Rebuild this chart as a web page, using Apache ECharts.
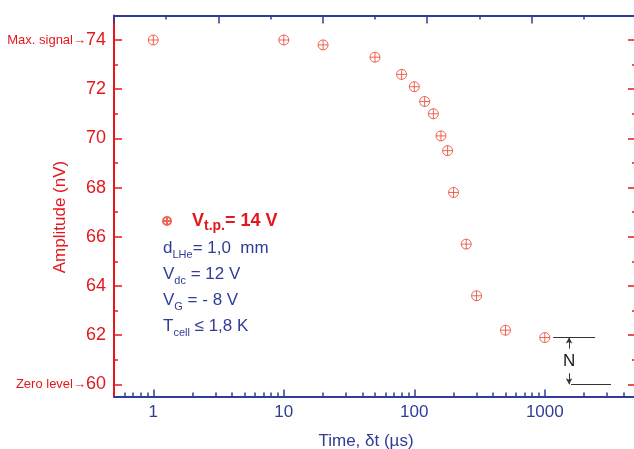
<!DOCTYPE html>
<html>
<head>
<meta charset="utf-8">
<script src="https://cdn.jsdelivr.net/npm/echarts@6/dist/echarts.min.js"></script>
<style>
  html, body { margin: 0; padding: 0; background: #ffffff; }
  #chart { width: 634px; height: 449px; }
</style>
</head>
<body>
<div id="chart"></div>
<script>
// Delay time (µs) and measured signal amplitude (nV)
const times = [1, 10, 20, 50, 80, 100, 120, 140, 160, 180, 200, 250, 300, 500, 1000];
const amplitudes = [74.0, 74.0, 73.8, 73.3, 72.6, 72.1, 71.5, 71.0, 70.1, 69.5, 67.8, 65.7, 63.6, 62.2, 61.9];

// Axis ticks
const xMajorTicks = [1, 10, 100, 1000];
const xMinorTicks = [0.6, 0.7, 0.8, 0.9,
  2, 3, 4, 5, 6, 7, 8, 9,
  20, 30, 40, 50, 60, 70, 80, 90,
  200, 300, 400, 500, 600, 700, 800, 900,
  2000, 3000, 4000];
const yMajorTicks = [60, 62, 64, 66, 68, 70, 72, 74];
const yMinorTicks = [61, 63, 65, 67, 69, 71, 73];

// Reference levels marked on the amplitude axis
const levelNames = { 74: 'Max. signal\u2192', 60: 'Zero level\u2192' };

// Noise band between the last point and zero level
const noiseTop = 61.9;
const noiseBottom = 60;

const seriesName = 'Vt.p. = 14 V';
// Experimental conditions: [main, subscript, rest]
const paramLines = [
  ['d', 'LHe', '= 1,0  mm'],
  ['V', 'dc', ' = 12 V'],
  ['V', 'G', ' = - 8 V'],
  ['T', 'cell', ' \u2264 1,8 K']
];

const RED = '#e3171d';
const BLUE = '#2f3d96';
const MARK = '#e8412f';
const FONT = 'Arial, "Liberation Sans", sans-serif';

const crossCircle = 'path://M10,0 A10,10 0 1,1 -10,0 A10,10 0 1,1 10,0 Z M-10,0 L10,0 M0,-10 L0,10';

const chart = echarts.init(document.getElementById('chart'), null, { renderer: 'canvas' });

const paramGraphics = paramLines.map((p, i) => ({
  type: 'text',
  left: 163,
  top: 240 + i * 26,
  style: {
    text: '{m|' + p[0] + '}{s|' + p[1] + '}{m|' + p[2] + '}',
    rich: {
      m: { fontSize: 17, fontFamily: FONT, fill: BLUE, color: BLUE, lineHeight: 24 },
      s: { fontSize: 11, fontFamily: FONT, fill: BLUE, color: BLUE, lineHeight: 11, verticalAlign: 'bottom' }
    }
  }
}));

const yCommon = {
  type: 'value', min: 59.5, max: 75, splitLine: { show: false }
};

const option = {
  backgroundColor: '#ffffff',
  animation: false,
  textStyle: { fontFamily: FONT },
  grid: { left: 114, right: -2, top: 15.4, bottom: 52.4, containLabel: false, outerBoundsMode: 'none' },
  legend: {
    left: 162, top: 212, padding: 0,
    selectedMode: false,
    itemWidth: 8, itemHeight: 8,
    data: [seriesName],
    formatter: () => '{gap|}{b|V}{sub|t.p.}{b|= 14 V}',
    textStyle: {
      rich: {
        gap: { width: 16 },
        b: { fontSize: 18, fontWeight: 'bold', color: RED, fontFamily: FONT, lineHeight: 24 },
        sub: { fontSize: 14, fontWeight: 'bold', color: RED, fontFamily: FONT, lineHeight: 14, verticalAlign: 'bottom' }
      }
    }
  },
  xAxis: [
    {
      type: 'log', logBase: 10, min: 0.5, max: 5000, position: 'bottom',
      axisLine: { lineStyle: { color: BLUE, width: 2 } },
      axisTick: { inside: true, length: 7, customValues: xMajorTicks, lineStyle: { color: BLUE, width: 1.5 } },
      axisLabel: { customValues: xMajorTicks, color: BLUE, fontSize: 17, margin: 7, fontFamily: FONT, formatter: v => String(v) },
      splitLine: { show: false },
      minorTick: { show: false },
      name: 'Time, \u03b4t (\u00b5s)', nameLocation: 'middle', nameGap: 36, nameMoveOverlap: false,
      nameTextStyle: { color: BLUE, fontSize: 17, fontFamily: FONT, padding: [0, 18, 0, 0] }
    },
    {
      type: 'log', logBase: 10, min: 0.5, max: 5000, position: 'bottom',
      axisLine: { show: false },
      axisTick: { inside: true, length: 4, customValues: xMinorTicks, lineStyle: { color: BLUE, width: 1.5 } },
      axisLabel: { show: false },
      splitLine: { show: false }
    },
    {
      type: 'value', min: 0, max: 10, interval: 2, position: 'top',
      axisLine: { lineStyle: { color: BLUE, width: 2 } },
      axisTick: { inside: true, length: 8, lineStyle: { color: BLUE, width: 1.5 } },
      minorTick: { show: true, splitNumber: 2, length: 4, lineStyle: { color: BLUE, width: 1.5 } },
      axisLabel: { show: false },
      splitLine: { show: false },
      minorSplitLine: { show: false }
    }
  ],
  yAxis: [
    Object.assign({}, yCommon, {
      position: 'left',
      axisLine: { lineStyle: { color: RED, width: 2 } },
      axisTick: { inside: true, length: 8, customValues: yMajorTicks, lineStyle: { color: RED, width: 1.5 } },
      axisLabel: {
        customValues: yMajorTicks, margin: 8, color: RED, fontSize: 18, fontFamily: FONT,
        formatter: v => levelNames[v] ? '{s|' + levelNames[v] + '}{n|' + v + '}' : '{n|' + v + '}',
        rich: {
          n: { fontSize: 18, color: RED, fontFamily: FONT },
          s: { fontSize: 13, color: RED, fontFamily: FONT }
        }
      },
      name: 'Amplitude (nV)', nameLocation: 'middle', nameGap: 45, nameMoveOverlap: false,
      nameTextStyle: { color: RED, fontSize: 17, fontFamily: FONT, padding: [0, 22, 0, 0] }
    }),
    Object.assign({}, yCommon, {
      position: 'left',
      axisLine: { show: false },
      axisTick: { inside: true, length: 4, customValues: yMinorTicks, lineStyle: { color: RED, width: 1.5 } },
      axisLabel: { show: false }
    }),
    Object.assign({}, yCommon, {
      position: 'right',
      axisLine: { lineStyle: { color: RED, width: 2 } },
      axisTick: { inside: true, length: 8, customValues: yMajorTicks, lineStyle: { color: RED, width: 1.5 } },
      axisLabel: { show: false }
    }),
    Object.assign({}, yCommon, {
      position: 'right',
      axisLine: { show: false },
      axisTick: { inside: true, length: 4, customValues: yMinorTicks, lineStyle: { color: RED, width: 1.5 } },
      axisLabel: { show: false }
    })
  ],
  graphic: paramGraphics,
  series: [
    {
      name: seriesName,
      type: 'scatter',
      xAxisIndex: 0, yAxisIndex: 0,
      symbol: crossCircle,
      symbolSize: 10,
      itemStyle: { color: 'rgba(0,0,0,0)', borderColor: MARK, borderWidth: 1 },
      data: times.map((t, i) => [t, amplitudes[i]]),
      markLine: {
        silent: true,
        symbol: 'none',
        label: { show: false },
        lineStyle: { color: '#333333', width: 1, type: 'solid' },
        data: [
          [{ coord: [1160, noiseTop], symbol: 'none' }, { coord: [2430, noiseTop], symbol: 'none' }],
          [{ coord: [1590, noiseBottom], symbol: 'none' }, { coord: [3220, noiseBottom], symbol: 'none' }],
          [{ coord: [1535, 61.45], symbol: 'none' }, { coord: [1535, noiseTop], symbol: 'arrow', symbolSize: [5, 6] }],
          [{ coord: [1535, 60.45], symbol: 'none' }, { coord: [1535, noiseBottom], symbol: 'arrow', symbolSize: [5, 6] }]
        ]
      },
      markPoint: {
        silent: true,
        symbol: 'circle', symbolSize: 0,
        label: { show: true, formatter: 'N', color: '#1a1a1a', fontSize: 17, fontFamily: FONT, position: 'inside' },
        data: [{ coord: [1535, (noiseTop + noiseBottom) / 2] }]
      }
    }
  ]
};

chart.setOption(option);
</script>
</body>
</html>
